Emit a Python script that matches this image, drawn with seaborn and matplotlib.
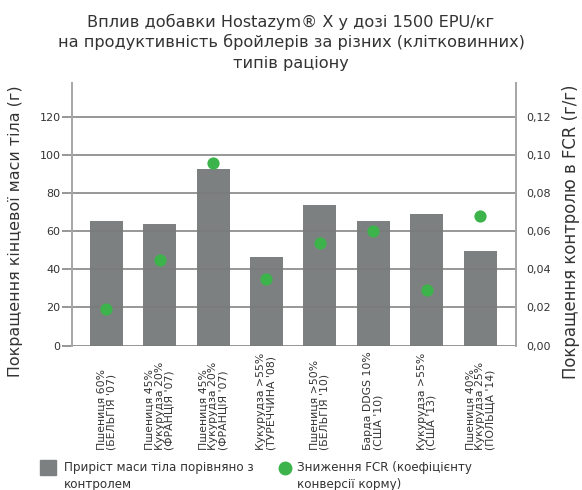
import numpy as np
import matplotlib
matplotlib.use("Agg")
import matplotlib.pyplot as plt
import matplotlib.transforms as mtransforms
from matplotlib.patches import Rectangle
from matplotlib.lines import Line2D
from matplotlib.ticker import FuncFormatter
import seaborn as sns

# data
diets = [
    "Пшениця 60%\n(БЕЛЬГІЯ '07)",
    "Пшениця 45%\nКукурудза 20%\n(ФРАНЦІЯ '07)",
    "Пшениця 45%\nКукурудза 20%\n(ФРАНЦІЯ '07)",
    "Кукурудза >55%\n(ТУРЕЧЧИНА '08)",
    "Пшениця >50%\n(БЕЛЬГІЯ '10)",
    "Барда DDGS 10%\n(США '10)",
    "Кукурудза >55%\n(США '13)",
    "Пшениця 40%\nКукурудза 25%\n(ПОЛЬЩА '14)",
]
weight_gain = [65.4, 63.8, 92.6, 46.5, 73.8, 65.4, 69.1, 49.6]
fcr_gain = [0.019, 0.045, 0.096, 0.035, 0.054, 0.060, 0.029, 0.068]

left_ticks = [0, 20, 40, 60, 80, 100, 120]
right_ticks = [0.0, 0.02, 0.04, 0.06, 0.08, 0.10, 0.12]

title_lines = [
    "Вплив добавки Hostazym® X у дозі 1500 EPU/кг",
    "на продуктивність бройлерів за різних (клітковинних)",
    "типів раціону",
]
left_label = "Покращення кінцевої маси тіла (г)"
right_label = "Покращення контролю в FCR (г/г)"
legend_bar = "Приріст маси тіла порівняно з\nконтролем"
legend_dot = "Зниження FCR (коефіцієнту\nконверсії корму)"

BAR = "#7c8081"
DOT = "#3cb44b"
GRID = "#7a7a7a"
SPINE = "#a8a8a8"
TXT = "#333333"

sns.set_style("white")
plt.rcParams["font.family"] = ["DejaVu Sans"]

W, H = 582, 490
fig = plt.figure(figsize=(W / 100, H / 100), dpi=100)
ax = fig.add_axes([72 / W, 144.5 / H, 443.5 / W, 262.5 / H])

sns.barplot(x=list(range(len(diets))), y=weight_gain, color=BAR, width=0.62,
            saturation=1, linewidth=0, ax=ax, zorder=1)
ax.set_axisbelow(False)
ax.yaxis.grid(True, color=GRID, lw=1.1, zorder=2.5)
ax.xaxis.grid(False)
ax.set_ylim(0, 138)
ax.set_yticks(left_ticks)
ax.tick_params(axis="y", left=True, length=7.2, width=1.1, color=GRID, pad=1,
               labelsize=8, labelcolor=TXT)
ax.tick_params(axis="x", length=0, labelbottom=False)
ax.set_xlabel("")
ax.set_ylabel("")

ax2 = ax.twinx()
sns.stripplot(x=list(range(len(diets))), y=fcr_gain, native_scale=True, jitter=False,
              color=DOT, size=8.8, linewidth=0, ax=ax2, zorder=5)
ax2.set_ylim(0, 0.138)
ax2.set_yticks(right_ticks)
ax2.yaxis.set_major_formatter(FuncFormatter(lambda v, p: f"{v:.2f}".replace(".", ",")))
ax2.tick_params(axis="y", right=False, length=0, pad=7.5, labelsize=8, labelcolor=TXT)
ax2.tick_params(axis="x", length=0, labelbottom=False)
ax2.set_xlabel("")
ax2.set_ylabel("")
ax2.grid(False)
ax.set_xlim(-0.64, 7.66)

for a in (ax, ax2):
    a.spines["top"].set_visible(False)
    a.spines["bottom"].set_visible(False)
    a.spines["left"].set_color(SPINE)
    a.spines["right"].set_color(SPINE)
    a.spines["left"].set_linewidth(1.4)
    a.spines["right"].set_linewidth(1.4)

# rotated category labels, anchored at their starting end
trans = mtransforms.blended_transform_factory(ax.transData, fig.transFigure)
for i, lab in enumerate(diets):
    ax.text(i, 1 - 450 / H, lab, transform=trans, rotation=90, ha="center",
            va="bottom", multialignment="left", fontsize=7.8, linespacing=1.0,
            color=TXT)

# title
for y_px, line in zip([27, 47.5, 68], title_lines):
    fig.text(0.5, 1 - y_px / H, line, ha="center", va="baseline", fontsize=11.6,
             color=TXT)

fig.text(15.5 / W, 1 - 231 / H, left_label, rotation=90, ha="center", va="center",
         fontsize=11.4, color=TXT)
fig.text(571 / W, 1 - 232 / H, right_label, rotation=90, ha="center", va="center",
         fontsize=11.9, color=TXT)

# legend
fig.add_artist(Rectangle((40 / W, 1 - 475 / H), 16 / W, 15 / H, color=BAR,
                         transform=fig.transFigure))
fig.text(64 / W, 1 - 461 / H, legend_bar, ha="left", va="top", fontsize=8.6,
         linespacing=1.35, color=TXT)
fig.add_artist(Line2D([285 / W], [1 - 468 / H], marker="o", ms=9, color=DOT,
                      linestyle="none", transform=fig.transFigure))
fig.text(297 / W, 1 - 461 / H, legend_dot, ha="left", va="top", fontsize=8.6,
         linespacing=1.35, color=TXT)

fig.savefig("out.png", dpi=100)
